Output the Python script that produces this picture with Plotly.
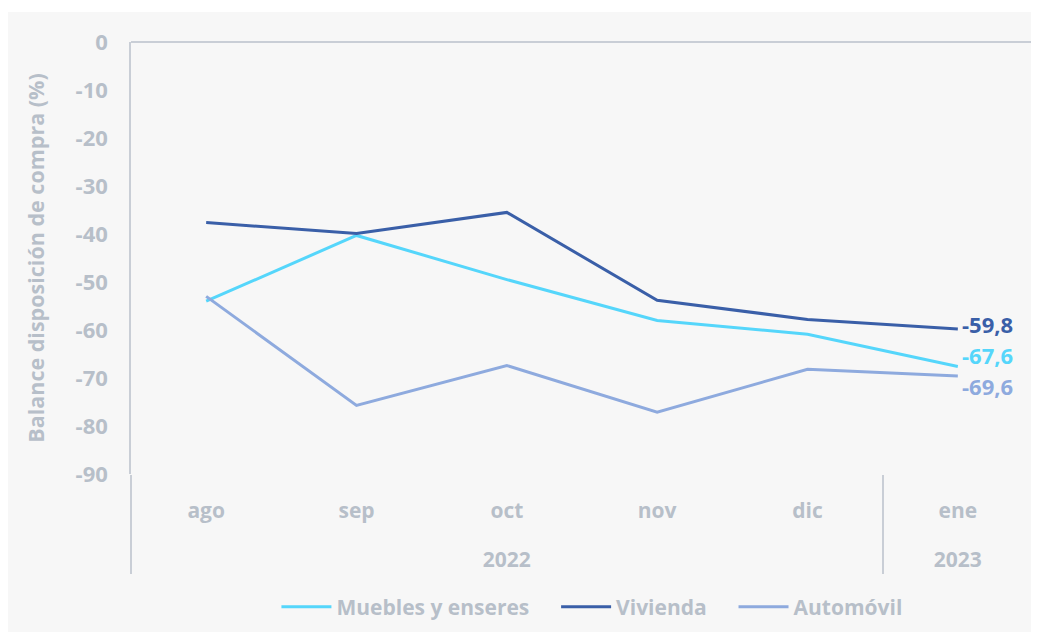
import plotly.graph_objects as go

years = ["2022", "2022", "2022", "2022", "2022", "2023"]
months = ["ago", "sep", "oct", "nov", "dic", "ene"]

muebles = [-54.0, -40.3, -49.5, -58.0, -60.9, -67.6]
vivienda = [-37.6, -39.9, -35.5, -53.8, -57.8, -59.8]
automovil = [-53.0, -75.7, -67.4, -77.1, -68.2, -69.6]

series_names = ["Muebles y enseres", "Vivienda", "Automóvil"]
series_values = [muebles, vivienda, automovil]
series_colors = ["#55d6fb", "#3a5fa8", "#8eaade"]
end_labels = ["-67,6", "-59,8", "-69,6"]
label_yshift = [11, 5, -10]

yticks = [0, -10, -20, -30, -40, -50, -60, -70, -80, -90]

gray_txt = "#b7bfc9"
line_col = "#c9ced6"
bg = "#f7f7f7"
FONT = "Open Sans"
NB = "\u00a0"

# label formatting for the two-level category axis (spacing only)
pad_span = "<span style='font-size:31px'>" + NB + "</span>"
year_lbl = ["<br>" + y for y in years]
month_lbl = [pad_span + m + pad_span for m in months]

fig = go.Figure()
for i, (name, vals, col) in enumerate(zip(series_names, series_values, series_colors)):
    shown = name + (NB * 4 if i < len(series_names) - 1 else "")
    fig.add_trace(go.Scatter(
        x=[year_lbl, month_lbl], y=vals, name=shown, mode="lines",
        line=dict(color=col, width=3), hoverinfo="skip",
    ))

for vals, col, lab, ys in zip(series_values, series_colors, end_labels, label_yshift):
    fig.add_annotation(
        x=5, y=vals[-1], text=lab, showarrow=False, xanchor="left",
        xshift=2, yshift=ys,
        font=dict(family=FONT, size=22, color=col, weight="bold"),
    )

# light grey panel behind the chart
fig.add_shape(type="rect", xref="paper", yref="paper",
              x0=-0.2, x1=1.05, y0=-0.5, y1=1.0693,
              fillcolor=bg, line=dict(width=0), layer="below")

fig.update_layout(
    width=1031, height=624,
    margin=dict(l=123, r=6, t=34, b=157),
    paper_bgcolor="white", plot_bgcolor=bg,
    font=dict(family=FONT, color=gray_txt, size=21, weight="bold"),
    showlegend=True,
    legend=dict(orientation="h", x=0.511, xanchor="center", y=-0.305,
                yanchor="middle", itemwidth=50,
                font=dict(family=FONT, size=21, color=gray_txt, weight="bold"),
                bgcolor="rgba(0,0,0,0)"),
    xaxis=dict(
        type="multicategory", range=[-0.5, 5.5], showgrid=False, showline=False,
        zeroline=False, ticks="", ticklabelstandoff=22,
        showdividers=True, dividercolor=line_col, dividerwidth=1.5,
        tickfont=dict(family=FONT, size=21, color=gray_txt, weight="bold"),
    ),
    yaxis=dict(
        range=[-90, 0], tickvals=yticks, ticktext=[str(v) for v in yticks],
        showgrid=False, showline=True, linecolor=line_col, linewidth=1.5,
        zeroline=True, zerolinecolor=line_col, zerolinewidth=2,
        ticks="", ticklabelstandoff=17,
        tickfont=dict(family=FONT, size=22, color=gray_txt, weight="bold"),
        title=dict(text="Balance disposición de compra (%)", standoff=25,
                   font=dict(family=FONT, size=21.5, color=gray_txt, weight="bold")),
    ),
)

fig.write_html("out.html")
